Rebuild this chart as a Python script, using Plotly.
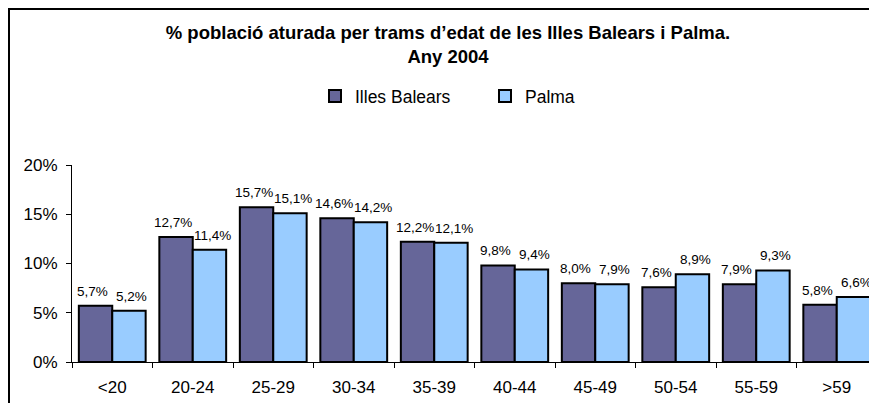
import plotly.graph_objects as go

categories = ["<20", "20-24", "25-29", "30-34", "35-39", "40-44", "45-49", "50-54", "55-59", ">59"]
illes_balears = [5.7, 12.7, 15.7, 14.6, 12.2, 9.8, 8.0, 7.6, 7.9, 5.8]
palma = [5.2, 11.4, 15.1, 14.2, 12.1, 9.4, 7.9, 8.9, 9.3, 6.6]
y_ticks = [0, 5, 10, 15, 20]
y_tick_labels = ["0%", "5%", "10%", "15%", "20%"]

# page body adds an 8px offset; figure coordinates = reference pixel - 8
OFF = 8
W, H = 877 - OFF, 403 - OFF
L = 72 - OFF
T = 165 - OFF
B = H - (362 - OFF)
plot_w = W - L
plot_h = H - T - B
BARGAP = 0.17

font = dict(family="Arial, Liberation Sans, sans-serif", color="black")

fig = go.Figure()
series = [("Illes Balears", illes_balears, "#666699"), ("Palma", palma, "#99CCFF")]
for name, vals, col in series:
    fig.add_trace(go.Bar(
        x=categories, y=vals, name=name,
        marker=dict(color=col, line=dict(color="black", width=2)),
    ))

# data labels placed with the axes' own scales
bar_w_px = plot_w / len(categories) * (1 - BARGAP) / 2
annotations = []
for k, (name, vals, col) in enumerate(series):
    shift = (-0.5 * bar_w_px - 3) if k == 0 else (0.5 * bar_w_px + 3)
    for c, v in zip(categories, vals):
        annotations.append(dict(
            x=c, y=v, xref="x", yref="y", text=f"{v:.1f}%".replace(".", ","),
            showarrow=False, xshift=shift, yshift=6, yanchor="bottom", xanchor="center",
            font=dict(size=13.5, **font), borderpad=0,
        ))

def px_x(p):
    return (p - OFF - L) / plot_w

def px_y(p):
    return (H - B - (p - OFF)) / plot_h

fig.update_layout(
    width=W, height=H,
    margin=dict(l=L, r=0, t=T, b=B, pad=0),
    paper_bgcolor="white", plot_bgcolor="white",
    separators=",.",
    barmode="group", bargap=BARGAP, bargroupgap=0,
    font=dict(size=15, **font),
    title=dict(
        text="<b>% població aturada per trams d’edat de les Illes Balears i Palma.<br>Any 2004</b>",
        x=(448 - OFF) / W, xanchor="center", y=1 - (39 - OFF) / H, yanchor="middle",
        font=dict(size=18.5, **font),
    ),
    legend=dict(
        orientation="h", x=px_x(315), xanchor="left", y=px_y(96), yanchor="middle",
        font=dict(size=17.5, **font), entrywidth=125, entrywidthmode="pixels",
        bgcolor="rgba(0,0,0,0)",
    ),
    xaxis=dict(
        type="category", range=[-0.5, 9.5], showline=True, linecolor="black", linewidth=1,
        ticks="outside", tickson="boundaries", ticklen=5, tickcolor="black",
        showgrid=False, tickfont=dict(size=17, **font), ticklabelstandoff=10,
    ),
    yaxis=dict(
        range=[0, 20], tickvals=y_ticks, ticktext=y_tick_labels, showline=True,
        linecolor="black", linewidth=1, ticks="outside", ticklen=5, tickcolor="black",
        showgrid=False, zeroline=False, tickfont=dict(size=17, **font), ticklabelstandoff=5,
    ),
    annotations=annotations,
    shapes=[dict(
        type="rect", xref="paper", yref="paper",
        x0=px_x(9), x1=px_x(877 + 50), y0=px_y(403 + 50), y1=px_y(9),
        line=dict(color="black", width=2), fillcolor="rgba(0,0,0,0)", layer="above",
    )],
)

fig.write_html("out.html")
